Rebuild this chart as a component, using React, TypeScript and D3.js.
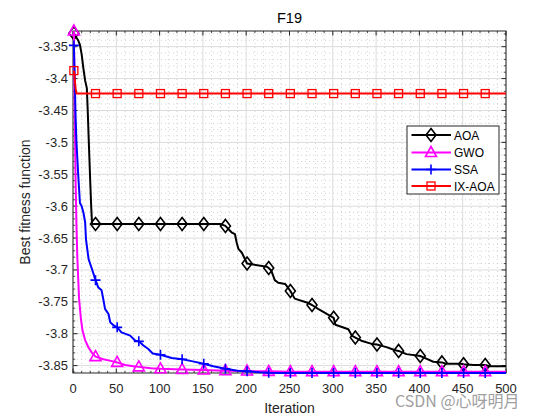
import React from 'react';
import * as d3 from 'd3';

// ---------- data ----------
const title = 'F19';
const xLabel = 'Iteration';
const yLabel = 'Best fitness function';
const seriesNames = ['AOA', 'GWO', 'SSA', 'IX-AOA'];
const seriesColors = ['#000000', '#ff00ff', '#0000ff', '#ff0000'];
const markerIters = [1, 26, 51, 76, 101, 126, 151, 176, 201, 226, 251, 276, 301, 326, 351, 376, 401, 426, 451, 476];
const xTickValues = [0, 50, 100, 150, 200, 250, 300, 350, 400, 450, 500];
const yTickValues = [-3.85, -3.8, -3.75, -3.7, -3.65, -3.6, -3.55, -3.5, -3.45, -3.4, -3.35];
const yTickLabels = ['-3.85', '-3.8', '-3.75', '-3.7', '-3.65', '-3.6', '-3.55', '-3.5', '-3.45', '-3.4', '-3.35'];

const aoa: [number, number][] = [
  [1, -3.329], [3, -3.334], [6, -3.34], [8, -3.347], [10, -3.362], [12, -3.384], [14, -3.403], [16, -3.415],
  [17, -3.45], [18, -3.49], [20, -3.565], [21, -3.6], [22, -3.628], [26, -3.628], [51, -3.628], [76, -3.628],
  [101, -3.628], [126, -3.628], [151, -3.628], [170, -3.628], [176, -3.631], [183, -3.641], [187, -3.644],
  [189, -3.657], [191, -3.667], [195, -3.673], [201, -3.69], [224, -3.695], [226, -3.697], [229, -3.701],
  [233, -3.716], [237, -3.72], [245, -3.722], [251, -3.733], [256, -3.745], [270, -3.751], [276, -3.755],
  [283, -3.761], [293, -3.769], [301, -3.775], [303, -3.786], [318, -3.793], [322, -3.803], [326, -3.806],
  [333, -3.811], [345, -3.816], [351, -3.817], [362, -3.821], [372, -3.826], [376, -3.827], [385, -3.832],
  [397, -3.834], [401, -3.835], [408, -3.839], [416, -3.844], [426, -3.845], [431, -3.847], [448, -3.847],
  [451, -3.848], [462, -3.849], [476, -3.849], [481, -3.851], [500, -3.851],
];

const gwo: [number, number][] = [
  [1, -3.3254], [2, -3.45], [3, -3.56], [4, -3.63], [5, -3.68], [7, -3.745], [9, -3.775], [11, -3.795],
  [14, -3.81], [18, -3.822], [22, -3.83], [26, -3.836], [35, -3.84], [45, -3.843], [51, -3.845], [60, -3.849],
  [70, -3.851], [76, -3.852], [90, -3.854], [101, -3.855], [126, -3.856], [151, -3.857], [176, -3.858],
  [201, -3.8585], [226, -3.859], [251, -3.8595], [276, -3.8595], [301, -3.8595], [326, -3.8595], [351, -3.8595],
  [376, -3.8595], [401, -3.8595], [426, -3.8595], [451, -3.8595], [476, -3.8595], [500, -3.8595],
];

const ssa: [number, number][] = [
  [1, -3.348], [2, -3.4], [3, -3.46], [4, -3.5], [6, -3.55], [8, -3.595], [10, -3.6], [12, -3.61], [14, -3.625],
  [15, -3.652], [18, -3.683], [22, -3.699], [26, -3.716], [29, -3.727], [33, -3.732], [35, -3.746], [37, -3.761],
  [41, -3.769], [43, -3.782], [47, -3.787], [51, -3.79], [56, -3.798], [66, -3.803], [72, -3.811], [76, -3.812],
  [81, -3.818], [87, -3.824], [92, -3.831], [101, -3.833], [114, -3.838], [126, -3.84], [137, -3.843],
  [151, -3.847], [162, -3.851], [176, -3.855], [190, -3.858], [201, -3.859], [215, -3.8605], [226, -3.8612],
  [240, -3.8616], [251, -3.8616], [276, -3.8616], [301, -3.8616], [326, -3.8616], [351, -3.8616], [376, -3.8616],
  [401, -3.8616], [426, -3.8616], [451, -3.8616], [476, -3.8616], [500, -3.8616],
];

const ixaoa: [number, number][] = [
  [1, -3.3875], [3, -3.415], [4, -3.4235], [26, -3.4235], [51, -3.4235], [76, -3.4235], [101, -3.4235],
  [126, -3.4235], [151, -3.4235], [176, -3.4235], [201, -3.4235], [226, -3.4235], [251, -3.4235], [276, -3.4235],
  [301, -3.4235], [326, -3.4235], [351, -3.4235], [376, -3.4235], [401, -3.4235], [426, -3.4235], [451, -3.4235],
  [476, -3.4235], [500, -3.4235],
];

const seriesData = [aoa, gwo, ssa, ixaoa];

// ---------- layout ----------
const W = 560;
const H = 420;
const L = 73, R = 506, T = 31, B = 373;
const AX = '#262626';
const FONT = '"Liberation Sans", Arial, Helvetica, sans-serif';

function Marker({ kind, color, cx, cy }: { kind: number; color: string; cx: number; cy: number }) {
  const sw = 1.6;
  if (kind === 0) {
    return <path d={`M${cx},${cy - 6.5}L${cx + 5},${cy}L${cx},${cy + 6.5}L${cx - 5},${cy}Z`} fill="none" stroke={color} strokeWidth={sw} />;
  }
  if (kind === 1) {
    return <path d={`M${cx},${cy - 6}L${cx + 5.5},${cy + 4}L${cx - 5.5},${cy + 4}Z`} fill="none" stroke={color} strokeWidth={sw} />;
  }
  if (kind === 2) {
    return <path d={`M${cx - 5},${cy}H${cx + 5}M${cx},${cy - 5}V${cy + 5}`} fill="none" stroke={color} strokeWidth={sw} />;
  }
  return <rect x={cx - 4} y={cy - 4} width={8} height={8} fill="none" stroke={color} strokeWidth={1.3} />;
}

export default function App() {
  const all = seriesData.flat();
  const ext = d3.extent(all, (d) => d[1]) as [number, number];
  const x = d3.scaleLinear().domain([0, 500]).range([L, R]);
  const y = d3.scaleLinear().domain(ext).range([B, T]);
  const line = d3.line<[number, number]>().x((d) => x(d[0])).y((d) => y(d[1]));

  const xMinor = d3.range(0, 501, 10).filter((v) => v % 50 !== 0);
  const yMinor = d3.range(-386, -332, 1).filter((v) => v % 5 !== 0).map((v) => v / 100).filter((v) => v >= ext[0] && v <= ext[1]);

  const legX = 407, legY = 126, legW = 92, legH = 68;
  const legRows = [135, 152.5, 169.5, 186];

  return (
    <svg width={W} height={H} style={{ position: 'absolute', left: 0, top: 0, background: '#fff' }} fontFamily={FONT}>
      <rect x={0} y={0} width={W} height={H} fill="#fff" />
      {/* minor grid */}
      {xMinor.map((v) => (
        <line key={'xm' + v} x1={x(v)} x2={x(v)} y1={T} y2={B} stroke="#c2c2c2" strokeWidth={0.7} strokeDasharray="1,3" />
      ))}
      {yMinor.map((v) => (
        <line key={'ym' + v} x1={L} x2={R} y1={y(v)} y2={y(v)} stroke="#c2c2c2" strokeWidth={0.7} strokeDasharray="1,3" />
      ))}
      {/* major grid */}
      {xTickValues.map((v) => (
        <line key={'xg' + v} x1={x(v)} x2={x(v)} y1={T} y2={B} stroke="#dcdcdc" strokeWidth={1} />
      ))}
      {yTickValues.map((v) => (
        <line key={'yg' + v} x1={L} x2={R} y1={y(v)} y2={y(v)} stroke="#dcdcdc" strokeWidth={1} />
      ))}
      {/* box + ticks */}
      <rect x={L} y={T} width={R - L} height={B - T} fill="none" stroke={AX} strokeWidth={1} />
      {xTickValues.map((v) => (
        <g key={'xt' + v}>
          <line x1={x(v)} x2={x(v)} y1={B} y2={B - 4.5} stroke={AX} />
          <line x1={x(v)} x2={x(v)} y1={T} y2={T + 4.5} stroke={AX} />
        </g>
      ))}
      {yTickValues.map((v) => (
        <g key={'yt' + v}>
          <line x1={L} x2={L + 4.5} y1={y(v)} y2={y(v)} stroke={AX} />
          <line x1={R} x2={R - 4.5} y1={y(v)} y2={y(v)} stroke={AX} />
        </g>
      ))}
      {xMinor.map((v) => (
        <g key={'xmt' + v}>
          <line x1={x(v)} x2={x(v)} y1={B} y2={B - 2.2} stroke={AX} strokeWidth={0.8} />
          <line x1={x(v)} x2={x(v)} y1={T} y2={T + 2.2} stroke={AX} strokeWidth={0.8} />
        </g>
      ))}
      {yMinor.map((v) => (
        <g key={'ymt' + v}>
          <line x1={L} x2={L + 2.2} y1={y(v)} y2={y(v)} stroke={AX} strokeWidth={0.8} />
          <line x1={R} x2={R - 2.2} y1={y(v)} y2={y(v)} stroke={AX} strokeWidth={0.8} />
        </g>
      ))}
      {/* tick labels */}
      {xTickValues.map((v) => (
        <text key={'xl' + v} x={x(v)} y={B + 20} textAnchor="middle" fontSize={13} fill={AX}>{String(v)}</text>
      ))}
      {yTickValues.map((v, i) => (
        <text key={'yl' + v} x={L - 5} y={y(v) + 4.5} textAnchor="end" fontSize={13} fill={AX}>{yTickLabels[i]}</text>
      ))}
      {/* series */}
      {seriesData.map((s, i) => (
        <g key={'s' + i}>
          <path d={line(s) || ''} fill="none" stroke={seriesColors[i]} strokeWidth={2} strokeLinejoin="round" />
          {s.filter((p) => markerIters.includes(p[0])).map((p) => (
            <Marker key={p[0]} kind={i} color={seriesColors[i]} cx={x(p[0])} cy={y(p[1])} />
          ))}
        </g>
      ))}
      {/* labels */}
      <text x={(L + R) / 2} y={23} textAnchor="middle" fontSize={14.5} fill="#000">{title}</text>
      <text x={(L + R) / 2} y={413} textAnchor="middle" fontSize={14} fill={AX}>{xLabel}</text>
      <text transform={`translate(30,${(T + B) / 2}) rotate(-90)`} textAnchor="middle" fontSize={14} fill={AX}>{yLabel}</text>
      {/* legend */}
      <rect x={legX} y={legY} width={legW} height={legH} fill="#fff" stroke={AX} strokeWidth={1} />
      {seriesNames.map((n, i) => (
        <g key={'lg' + i}>
          <line x1={411.5} x2={451} y1={legRows[i]} y2={legRows[i]} stroke={seriesColors[i]} strokeWidth={2} />
          <Marker kind={i} color={seriesColors[i]} cx={431} cy={legRows[i]} />
          <text x={454} y={legRows[i] + 4.5} fontSize={12} fill="#000">{n}</text>
        </g>
      ))}
      {/* watermark */}
      <text x={395} y={407} fontSize={16} fill="#a0a0a0" fontFamily='"Noto Sans CJK SC", "Liberation Sans", sans-serif'>CSDN @心呀明月</text>
    </svg>
  );
}
